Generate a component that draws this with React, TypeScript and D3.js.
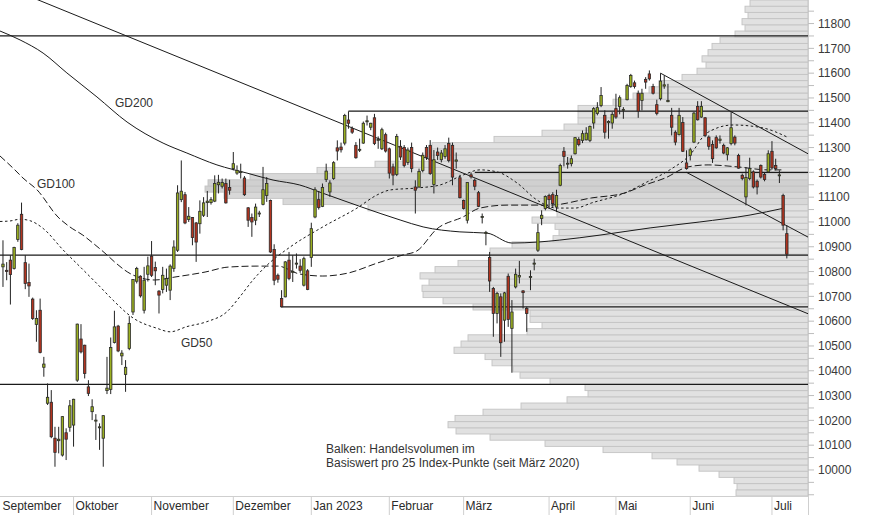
import React from 'react';
import * as d3 from 'd3';

// [open, high, low, close] per trading day, Sep 2022 - Jul 2023
const candles: [number, number, number, number][] = [
  [10819, 10926, 10738, 10830], [10805, 10838, 10765, 10800], [10846, 10866, 10667, 10788], [10812, 10900, 10808, 10897],
  [10929, 10995, 10920, 10987], [11031, 11078, 10886, 10889], [10836, 10866, 10729, 10752], [10756, 10832, 10698, 10742],
  [10689, 10695, 10605, 10611], [10587, 10644, 10517, 10611], [10644, 10691, 10470, 10474], [10414, 10456, 10376, 10427],
  [10269, 10349, 10262, 10293], [10273, 10322, 10128, 10134], [10128, 10174, 10013, 10071], [10118, 10174, 10067, 10124],
  [10060, 10217, 10054, 10215], [10150, 10168, 10040, 10124], [10172, 10282, 10154, 10259], [10181, 10287, 10094, 10285],
  [10362, 10590, 10355, 10588], [10528, 10588, 10470, 10476], [10503, 10505, 10369, 10389], [10335, 10362, 10298, 10309],
  [10235, 10285, 10201, 10255], [10197, 10225, 10121, 10201], [10170, 10188, 10081, 10174], [10128, 10221, 10013, 10219],
  [10320, 10456, 10306, 10330], [10325, 10534, 10306, 10494], [10514, 10642, 10510, 10577], [10580, 10585, 10475, 10480],
  [10460, 10483, 10423, 10471], [10385, 10443, 10315, 10414], [10490, 10620, 10483, 10591], [10637, 10770, 10625, 10768],
  [10761, 10819, 10752, 10812], [10781, 10785, 10695, 10702], [10644, 10819, 10631, 10765], [10789, 10860, 10760, 10823],
  [10862, 10923, 10778, 10785], [10816, 10840, 10745, 10803], [10721, 10725, 10631, 10705], [10728, 10819, 10712, 10785],
  [10745, 10812, 10718, 10772], [10725, 10829, 10685, 10822], [10812, 10926, 10799, 10899], [10886, 11148, 10879, 11117],
  [11090, 11248, 11080, 11124], [11110, 11121, 10991, 10996], [11010, 11060, 11000, 11023], [11018, 11020, 10906, 10937],
  [10996, 11000, 10839, 10919], [10993, 11087, 10953, 11043], [11027, 11100, 11020, 11077], [11078, 11125, 11020, 11084],
  [11078, 11100, 11070, 11090], [11084, 11188, 11080, 11155], [11150, 11190, 11115, 11160], [11144, 11175, 11135, 11159],
  [11155, 11175, 11074, 11077], [11139, 11170, 11110, 11128], [11215, 11282, 11208, 11235], [11197, 11228, 11190, 11208],
  [11199, 11235, 11175, 11203], [11177, 11185, 11105, 11110], [11057, 11060, 10980, 11007], [11018, 11034, 10940, 11000],
  [11007, 11074, 10987, 11060], [11032, 11045, 11020, 11036], [11071, 11222, 11067, 11130], [11107, 11181, 11081, 11155],
  [11087, 11090, 10875, 10879], [10889, 10910, 10745, 10765], [10785, 10792, 10755, 10769], [10691, 10725, 10655, 10658],
  [10698, 10842, 10696, 10839], [10846, 10879, 10765, 10772], [10797, 10866, 10758, 10801], [10830, 10873, 10812, 10834],
  [10822, 10850, 10795, 10805], [10745, 10860, 10740, 10852], [10803, 10810, 10725, 10728], [10857, 10997, 10819, 10973],
  [11020, 11140, 11015, 11130], [11090, 11125, 11050, 11058], [11063, 11155, 11060, 11139], [11171, 11235, 11161, 11205],
  [11121, 11168, 11101, 11157], [11175, 11245, 11170, 11239], [11299, 11329, 11248, 11286], [11302, 11320, 11280, 11291],
  [11318, 11436, 11309, 11429], [11411, 11446, 11376, 11398], [11376, 11385, 11355, 11362], [11309, 11322, 11255, 11259],
  [11289, 11336, 11282, 11293], [11318, 11405, 11315, 11398], [11404, 11429, 11389, 11408], [11382, 11400, 11370, 11398],
  [11420, 11436, 11310, 11316], [11329, 11345, 11295, 11333], [11295, 11380, 11290, 11372], [11352, 11360, 11280, 11286],
  [11295, 11300, 11175, 11197], [11222, 11235, 11148, 11189], [11192, 11355, 11185, 11345], [11305, 11330, 11250, 11262],
  [11300, 11310, 11220, 11228], [11240, 11300, 11230, 11290], [11300, 11320, 11200, 11216], [11141, 11168, 11034, 11128],
  [11141, 11215, 11138, 11204], [11208, 11280, 11200, 11269], [11300, 11310, 11250, 11260], [11309, 11330, 11190, 11195],
  [11151, 11290, 11115, 11251], [11282, 11300, 11250, 11268], [11251, 11290, 11240, 11278], [11264, 11310, 11255, 11295],
  [11316, 11340, 11240, 11248], [11309, 11320, 11148, 11181], [11245, 11280, 11215, 11250], [11178, 11190, 11095, 11098],
  [11087, 11090, 11050, 11054], [11007, 11160, 10994, 11159], [11190, 11200, 11175, 11182], [11168, 11175, 11128, 11144],
  [11118, 11125, 11060, 11063], [11018, 11034, 10994, 11022], [10954, 10964, 10906, 10958], [10857, 10879, 10718, 10762],
  [10732, 10738, 10537, 10631], [10631, 10718, 10591, 10712], [10698, 10712, 10456, 10513], [10604, 10718, 10517, 10714],
  [10781, 10792, 10577, 10607], [10571, 10685, 10392, 10637], [10738, 10812, 10732, 10789], [10778, 10843, 10752, 10784],
  [10722, 10725, 10651, 10715], [10651, 10658, 10557, 10631], [10776, 10805, 10725, 10780], [10830, 10852, 10805, 10834],
  [10886, 10993, 10879, 10957], [11014, 11047, 10987, 11027], [11054, 11107, 11047, 11103], [11107, 11114, 11054, 11090],
  [11110, 11120, 11060, 11074], [11060, 11130, 11040, 11107], [11148, 11235, 11144, 11228], [11285, 11302, 11224, 11264],
  [11233, 11262, 11215, 11237], [11235, 11268, 11224, 11255], [11275, 11342, 11272, 11340], [11333, 11342, 11305, 11312],
  [11329, 11369, 11318, 11356], [11331, 11382, 11329, 11358], [11329, 11389, 11322, 11385], [11399, 11463, 11376, 11457],
  [11437, 11483, 11430, 11461], [11470, 11544, 11463, 11510], [11430, 11450, 11336, 11362], [11400, 11410, 11336, 11405],
  [11399, 11443, 11376, 11434], [11457, 11517, 11416, 11423], [11466, 11510, 11434, 11501], [11450, 11463, 11416, 11454],
  [11493, 11557, 11490, 11550], [11546, 11597, 11541, 11591], [11561, 11570, 11538, 11546], [11519, 11530, 11420, 11447],
  [11490, 11537, 11450, 11519], [11575, 11584, 11537, 11564], [11597, 11611, 11570, 11577], [11546, 11557, 11514, 11519],
  [11473, 11493, 11430, 11437], [11497, 11600, 11490, 11568], [11548, 11591, 11537, 11553], [11485, 11557, 11483, 11490],
  [11430, 11460, 11349, 11382], [11362, 11369, 11309, 11322], [11352, 11460, 11349, 11430], [11401, 11423, 11282, 11285],
  [11238, 11289, 11211, 11215], [11269, 11299, 11248, 11291], [11322, 11443, 11318, 11439], [11466, 11487, 11409, 11412],
  [11423, 11487, 11420, 11466], [11420, 11423, 11342, 11349], [11342, 11349, 11291, 11305], [11313, 11329, 11238, 11255],
  [11340, 11349, 11295, 11299], [11329, 11349, 11316, 11334], [11309, 11316, 11273, 11278], [11271, 11302, 11248, 11299],
  [11316, 11443, 11309, 11380], [11342, 11349, 11309, 11318], [11268, 11275, 11215, 11217], [11188, 11195, 11168, 11175],
  [11101, 11221, 11067, 11179], [11175, 11259, 11168, 11215], [11202, 11208, 11135, 11141], [11164, 11171, 11111, 11141],
  [11228, 11232, 11175, 11181], [11192, 11200, 11164, 11171], [11202, 11289, 11198, 11275], [11285, 11326, 11211, 11218],
  [11228, 11255, 11208, 11215], [11188, 11208, 11157, 11190], [11107, 11114, 10966, 10987], [10953, 10987, 10853, 10870],
];

const monthLabels = ['September', 'Oktober', 'November', 'Dezember', 'Jan 2023', 'Februar', 'März', 'April', 'Mai', 'Juni', 'Juli'];
const monthStartIndex = [-0.8, 19, 40, 62, 83, 104, 124, 147, 165, 185, 207];

// moving averages read at sample points: [day index, value]
const gd200: [number, number][] = [
  [-0.8, 11770], [4.6, 11734], [10.8, 11681], [17.2, 11601], [25.3, 11504], [33.4, 11403], [43.1, 11318],
  [49.5, 11278], [57.6, 11230], [65.7, 11197], [72.7, 11169], [79.9, 11149], [85.9, 11117], [96.6, 11060],
  [106.9, 11008], [113.1, 10980], [123.0, 10960], [130.3, 10955], [137.0, 10915], [144.0, 10919],
  [149.9, 10927], [160.7, 10947], [174.2, 10976], [187.6, 11000], [201.1, 11028], [210.0, 11055],
];
const gd100: [number, number][] = [
  [-0.8, 11266], [3.2, 11210], [5.4, 11177], [9.2, 11129], [14.8, 11020], [18.0, 10980], [21.5, 10947],
  [24.2, 10915], [28.0, 10867], [30.1, 10838], [35.0, 10786], [40.9, 10766], [46.3, 10778], [54.4, 10798],
  [60.6, 10818], [68.6, 10822], [74.0, 10822], [79.9, 10790], [86.1, 10782], [92.9, 10794], [100.7, 10834],
  [107.7, 10867], [111.4, 10883], [116.8, 10972], [123.8, 11020], [128.4, 11056], [135.7, 11068],
  [147.2, 11068], [158.5, 11097], [167.4, 11117], [172.8, 11149], [178.2, 11177], [184.4, 11222],
  [189.8, 11230], [197.8, 11222], [205.9, 11210], [209.7, 11210],
];
const gd50: [number, number][] = [
  [-0.8, 11002], [1.9, 11004], [4.6, 11011], [7.3, 11005], [10.8, 10974], [16.2, 10887], [20.7, 10820],
  [26.1, 10739], [29.6, 10685], [35.0, 10613], [41.5, 10571], [45.0, 10557], [49.5, 10578], [54.9, 10598],
  [60.3, 10638], [63.8, 10699], [67.3, 10766], [71.1, 10826], [77.3, 10899], [86.1, 10980], [95.3, 11056],
  [100.7, 11109], [104.2, 11129], [111.4, 11137], [117.6, 11149], [123.8, 11189], [128.4, 11210],
  [133.0, 11202], [138.4, 11157], [143.7, 11089], [149.1, 11056], [154.0, 11056], [158.5, 11077],
  [167.4, 11117], [172.8, 11157], [179.5, 11210], [184.9, 11270], [189.5, 11359], [196.5, 11391],
  [204.6, 11379], [211.0, 11343],
];

// volume profile: 25-point bins from 9895 upward (relative volume)
const volBinStart = 9895;
const volBinSize = 25;
const volumes = [
  72, 71, 74, 89, 109, 131, 156, 205, 263, 318, 352, 360, 353, 325, 287, 241, 220, 223, 258, 288,
  295, 316, 323, 354, 347, 340, 281, 266, 278, 278, 335, 365, 385, 386, 379, 388, 373, 350, 318, 318,
  296, 255, 249, 253, 276, 251, 440, 525, 584, 603, 600, 558, 491, 433, 376, 376, 376, 314, 266, 244,
  230, 230, 230, 195, 175, 159, 149, 126, 111, 102, 106, 100, 96, 88, 73, 63, 66, 60, 63, 58,
];

// horizontal support / resistance levels and the day they start
const levelValues = [11750, 11447, 11200, 10866, 10658, 10345];
const levelStart = [-0.8, 93, 127, -0.8, 75, -0.8];

// trend lines: [[day, value], [day, value]]
const trendLines: [number, number][][] = [
  [[-0.8, 11958], [216.7, 10630]],
  [[177, 11600], [216.7, 11275]],
  [[184, 11200], [216.7, 10939]],
];

const yTicks = d3.range(9900, 11851, 50);
const yLabels = d3.range(10000, 11801, 100);

const FONT = '"Liberation Sans", Arial, sans-serif';

export default function App() {
  const plotR = 808;
  const plotB = 496;
  const x = d3.scaleLinear().domain([-0.8, 216.7]).range([0, plotR]);
  const y = d3.scaleLinear().domain([9895, 11895]).range([plotB, 0]);
  const vx = d3.scaleLinear().domain([0, plotR]).range([plotR, 0]);
  const line = d3.line<[number, number]>().x((d) => x(d[0])).y((d) => y(d[1])).curve(d3.curveMonotoneX);
  const straight = d3.line<[number, number]>().x((d) => x(d[0])).y((d) => y(d[1]));
  const green = '#9bb020';
  const red = '#b3341f';
  const bodyW = 2.4;

  const barFill = (k: number) => (k === 49 || k === 50 ? '#d0d0d0' : k === 47 || k === 48 || k === 51 ? '#d8d8d8' : '#e1e1e1');

  return (
    <svg width={874} height={515} style={{ position: 'absolute', left: 0, top: 0, background: '#fff' }} fontFamily={FONT}>
      <defs>
        <clipPath id="plot">
          <rect x={0} y={0} width={plotR} height={plotB} />
        </clipPath>
      </defs>
      <rect x={0} y={0} width={874} height={515} fill="#fff" />
      <g clipPath="url(#plot)">
        {volumes.map((v, k) => {
          const lo = volBinStart + k * volBinSize;
          const yt = y(lo + volBinSize);
          const yb = y(lo);
          return (
            <rect key={'v' + k} x={vx(v)} y={yt} width={plotR - vx(v)} height={yb - yt}
              fill={barFill(k)} stroke="#c3c3c3" strokeWidth={0.9} />
          );
        })}
        {levelValues.map((v, i) => (
          <line key={'h' + i} x1={x(levelStart[i])} x2={plotR} y1={y(v)} y2={y(v)} stroke="#1a1a1a" strokeWidth={1.3} />
        ))}
        {trendLines.map((t, i) => (
          <path key={'t' + i} d={straight(t) || ''} fill="none" stroke="#1a1a1a" strokeWidth={1} />
        ))}
        <path d={line(gd200) || ''} fill="none" stroke="#1a1a1a" strokeWidth={1} />
        <path d={line(gd100) || ''} fill="none" stroke="#1a1a1a" strokeWidth={1} strokeDasharray="7,3" />
        <path d={line(gd50) || ''} fill="none" stroke="#1a1a1a" strokeWidth={1} strokeDasharray="2.5,2.5" />
        {candles.map((c, i) => {
          const [o, h, l, cl] = c;
          const cx = x(i);
          const top = y(Math.max(o, cl));
          const bot = y(Math.min(o, cl));
          const hgt = Math.max(1, bot - top);
          return (
            <g key={'c' + i}>
              <line x1={cx} x2={cx} y1={y(h)} y2={y(l)} stroke="#222" strokeWidth={1} />
              <rect x={cx - bodyW / 2} y={top} width={bodyW} height={hgt}
                fill={cl >= o ? green : red} stroke="#2a2a2a" strokeWidth={0.8} />
            </g>
          );
        })}
      </g>
      {/* axes */}
      <line x1={0} x2={plotR} y1={plotB + 0.5} y2={plotB + 0.5} stroke="#cfcfcf" strokeWidth={1} />
      <line x1={plotR + 0.5} x2={plotR + 0.5} y1={0} y2={515} stroke="#cfcfcf" strokeWidth={1} />
      {yTicks.map((t) => (
        <line key={'yt' + t} x1={plotR} x2={plotR + 6} y1={y(t)} y2={y(t)} stroke="#bdbdbd" strokeWidth={1} />
      ))}
      {yLabels.map((t) => (
        <text key={'yl' + t} x={818} y={y(t)} dy="0.35em" fontSize={12} fill="#3a3a3a">{t}</text>
      ))}
      {monthLabels.map((m, i) => {
        const mx = Math.max(0.5, x(monthStartIndex[i]));
        return (
          <g key={'m' + i}>
            {i > 0 && <line x1={mx} x2={mx} y1={plotB} y2={515} stroke="#cfcfcf" strokeWidth={1} />}
            <text x={mx + 2} y={510} fontSize={12} fill="#2a2a2a">{m}</text>
          </g>
        );
      })}
      {/* annotations */}
      <text x={115} y={107} fontSize={12} fill="#333">GD200</text>
      <text x={37} y={188} fontSize={12} fill="#333">GD100</text>
      <text x={181} y={347} fontSize={12} fill="#333">GD50</text>
      <text x={326} y={453} fontSize={12} fill="#333">Balken: Handelsvolumen im</text>
      <text x={326} y={467} fontSize={12} fill="#333">Basiswert pro 25 Index-Punkte (seit März 2020)</text>
    </svg>
  );
}
